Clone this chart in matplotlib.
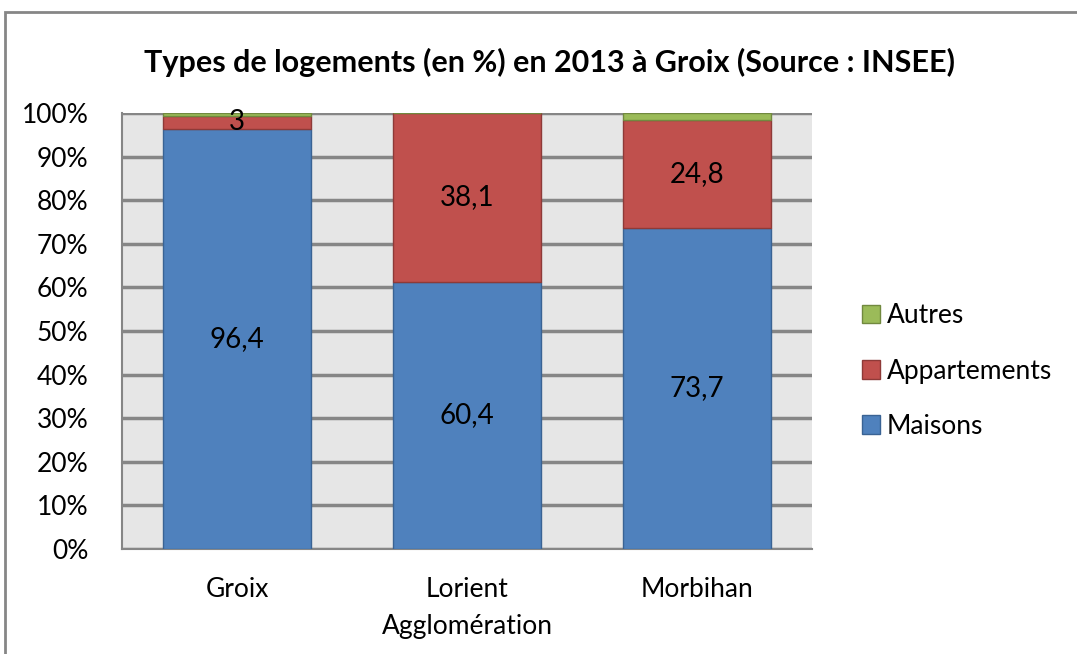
import matplotlib
matplotlib.use("Agg")
import matplotlib.pyplot as plt
from matplotlib.patches import Rectangle, Patch
import numpy as np

categories = ["Groix", "Lorient\nAgglomération", "Morbihan"]
maisons = [96.4, 60.4, 73.7]
appartements = [3.0, 38.1, 24.8]
autres = [0.6, 0.0, 1.5]
label_maisons = ["96,4", "60,4", "73,7"]
label_appart = ["3", "38,1", "24,8"]
yticks = [0, 10, 20, 30, 40, 50, 60, 70, 80, 90, 100]
title = "Types de logements (en %) en 2013 à Groix (Source : INSEE)"

plt.rcParams['font.family'] = ['Lato', 'DejaVu Sans']

W, H = 1077, 654
fig = plt.figure(figsize=(W/100, H/100), dpi=100)
fig.patch.set_facecolor("white")

# outer chart frame
fig.patches.append(Rectangle((5/W, -0.1), 1.2, (H-12)/H + 0.1, transform=fig.transFigure,
                             fill=False, edgecolor="#868686", linewidth=2))

ax = fig.add_axes([122/W, 1-549/H, (812-122)/W, (549-113)/H])
ax.set_facecolor("#e6e6e6")

tot = np.array(maisons) + np.array(appartements) + np.array(autres)
m = np.array(maisons) / tot * 100
a = np.array(appartements) / tot * 100
o = np.array(autres) / tot * 100
x = np.arange(len(categories))
w = 0.64
c_blue, c_red, c_green = "#4f81bd", "#c0504d", "#9bbb59"
e_blue, e_red, e_green = "#3a6394", "#8e3a38", "#71893f"
ax.bar(x, m, w, color=c_blue, edgecolor=e_blue, linewidth=1, zorder=3)
ax.bar(x, a, w, bottom=m, color=c_red, edgecolor=e_red, linewidth=1, zorder=3)
ax.bar(x, o, w, bottom=m + a, color=c_green, edgecolor=e_green, linewidth=1, zorder=3)

for i in range(len(categories)):
    ax.text(x[i], m[i] / 2, label_maisons[i], ha="center", va="center", fontsize=20, zorder=4)
    ax.text(x[i], m[i] + a[i] / 2, label_appart[i], ha="center", va="center", fontsize=20, zorder=4)

ax.set_xlim(-0.5, 2.5)
ax.set_ylim(0, 100)
ax.set_yticks(yticks)
ax.set_yticklabels([f"{t}%" for t in yticks], fontsize=19)
ax.set_xticks(x)
ax.set_xticklabels(categories, fontsize=19, linespacing=1.6)
ax.tick_params(axis="y", length=0, pad=24)
ax.tick_params(axis="x", length=0, pad=20)
ax.yaxis.grid(True, color="#868686", linewidth=2.5, zorder=1)
ax.set_axisbelow(True)
for s in ["top", "right"]:
    ax.spines[s].set_visible(False)
for s in ["left", "bottom"]:
    ax.spines[s].set_color("#868686")
    ax.spines[s].set_linewidth(1.5)

fig.text(550/W, 1-62/H, title, ha="center", va="center", fontsize=22, fontweight="bold")

handles = [Patch(facecolor=c_green, edgecolor=e_green, label="Autres"),
           Patch(facecolor=c_red, edgecolor=e_red, label="Appartements"),
           Patch(facecolor=c_blue, edgecolor=e_blue, label="Maisons")]
fig.legend(handles=handles, loc="center left", bbox_to_anchor=(838/W, 1-371/H),
           frameon=False, fontsize=19, handlelength=0.7, handleheight=0.7,
           handletextpad=0.25, labelspacing=1.15)

fig.savefig("out.png", dpi=100)
